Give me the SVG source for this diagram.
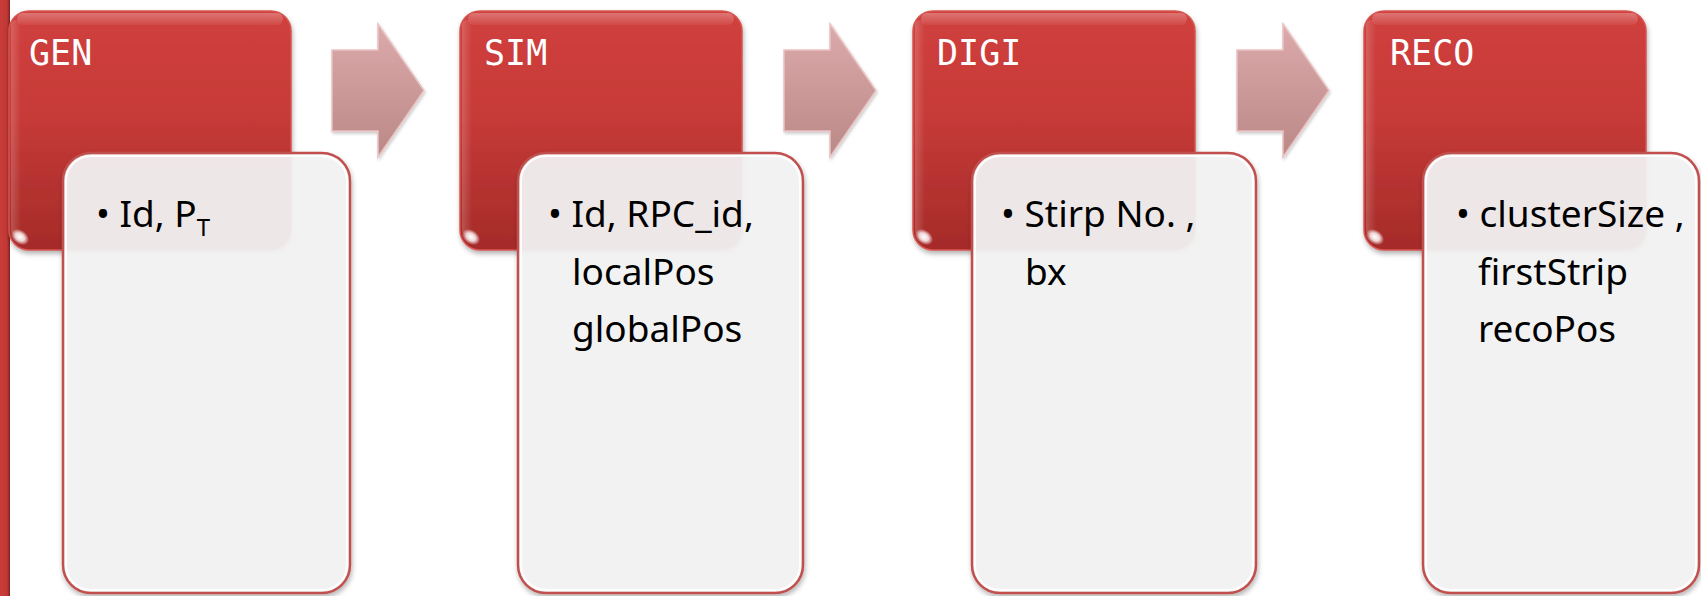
<svg xmlns="http://www.w3.org/2000/svg" width="1701" height="596" viewBox="0 0 1701 596">
  <defs>
    <linearGradient id="redG" x1="0" y1="0" x2="0" y2="1">
      <stop offset="0" stop-color="#d0403d"/>
      <stop offset="0.45" stop-color="#c63a37"/>
      <stop offset="1" stop-color="#a52b29"/>
    </linearGradient>
    <linearGradient id="glossG" x1="0" y1="0" x2="0" y2="1">
      <stop offset="0" stop-color="#ffffff" stop-opacity="0.28"/>
      <stop offset="1" stop-color="#ffffff" stop-opacity="0.05"/>
    </linearGradient>
    <linearGradient id="edgeG" x1="0" y1="0" x2="1" y2="0">
      <stop offset="0" stop-color="#ffffff" stop-opacity="0.18"/>
      <stop offset="1" stop-color="#ffffff" stop-opacity="0"/>
    </linearGradient>
    <linearGradient id="arrowG" x1="0" y1="0" x2="0" y2="1">
      <stop offset="0" stop-color="#dcaaaa"/>
      <stop offset="1" stop-color="#bb8888"/>
    </linearGradient>
    <linearGradient id="barG" x1="0" y1="0" x2="1" y2="0">
      <stop offset="0" stop-color="#c93c39"/>
      <stop offset="0.7" stop-color="#c23835"/>
      <stop offset="1" stop-color="#7d2220"/>
    </linearGradient>
    <radialGradient id="glint" cx="0.5" cy="0.5" r="0.5">
      <stop offset="0" stop-color="#ffffff" stop-opacity="1"/>
      <stop offset="0.5" stop-color="#ffffff" stop-opacity="0.8"/>
      <stop offset="1" stop-color="#ffffff" stop-opacity="0"/>
    </radialGradient>
    <filter id="shadow" x="-10%" y="-10%" width="120%" height="120%">
      <feDropShadow dx="1" dy="3" stdDeviation="2.5" flood-color="#000" flood-opacity="0.3"/>
    </filter>
    <filter id="ashadow" x="-10%" y="-10%" width="130%" height="130%">
      <feDropShadow dx="1" dy="2" stdDeviation="1.5" flood-color="#000" flood-opacity="0.2"/>
    </filter>
  </defs>
  <style>
    .red { fill: url(#redG); stroke: #d65450; stroke-width: 1.5; filter: url(#shadow); }
    .gloss { fill: url(#glossG); }
    .edge { fill: url(#edgeG); }
    .light { fill: #f4f4f4; fill-opacity: 0.92; stroke: #c0504d; stroke-width: 2.5; filter: url(#shadow); }
    .inner { fill: none; stroke: #ffffff; stroke-width: 2; stroke-opacity: 0.9; }
    .arrow { fill: url(#arrowG); stroke: #e9c2c2; stroke-width: 1.5; filter: url(#ashadow); }
    .title { font-family: "DejaVu Sans Mono", "Liberation Mono", monospace; font-size: 35px; fill: #ffffff; }
    .body { font-family: "Noto Sans", "Open Sans", sans-serif; font-size: 37px; fill: #000000; }
    .sub { font-size: 24px; }
  </style>

  <rect x="0" y="0" width="10" height="596" fill="url(#barG)"/>

  <g id="connectors">
    <polygon class="arrow" points="332,50 378,50 378,24 424,90.5 378,157 378,131 332,131"/>
    <polygon class="arrow" points="784,50 830,50 830,24 876,90.5 830,157 830,131 784,131"/>
    <polygon class="arrow" points="1237,50 1283,50 1283,24 1329,90.5 1283,157 1283,131 1237,131"/>
  </g>

  <g id="gen">
    <rect class="red" x="9" y="11" width="282" height="239" rx="20"/>
    <rect class="gloss" x="17" y="13" width="266" height="12" rx="6"/>
    <rect class="edge" x="11" y="20" width="10" height="215" rx="5"/>
    <ellipse cx="20" cy="237" rx="10" ry="7" transform="rotate(35 20 237)" fill="url(#glint)"/>
    <text class="title" x="29" y="65">GEN</text>
    <rect class="light" x="63" y="153" width="287" height="440" rx="28"/>
    <rect class="inner" x="66" y="156" width="281" height="434" rx="25"/>
    <text class="body" x="96" y="227">• Id, P<tspan class="sub" dy="9">T</tspan></text>
  </g>

  <g id="sim">
    <rect class="red" x="460" y="11" width="282" height="239" rx="20"/>
    <rect class="gloss" x="468" y="13" width="266" height="12" rx="6"/>
    <rect class="edge" x="462" y="20" width="10" height="215" rx="5"/>
    <ellipse cx="471" cy="237" rx="10" ry="7" transform="rotate(35 471 237)" fill="url(#glint)"/>
    <text class="title" x="484" y="65">SIM</text>
    <rect class="light" x="518" y="153" width="285" height="440" rx="28"/>
    <rect class="inner" x="521" y="156" width="279" height="434" rx="25"/>
    <text class="body" x="548" y="227">• Id, RPC_id,</text>
    <text class="body" x="572" y="285">localPos</text>
    <text class="body" x="572" y="342">globalPos</text>
  </g>

  <g id="digi">
    <rect class="red" x="913" y="11" width="282" height="239" rx="20"/>
    <rect class="gloss" x="921" y="13" width="266" height="12" rx="6"/>
    <rect class="edge" x="915" y="20" width="10" height="215" rx="5"/>
    <ellipse cx="924" cy="237" rx="10" ry="7" transform="rotate(35 924 237)" fill="url(#glint)"/>
    <text class="title" x="937" y="65">DIGI</text>
    <rect class="light" x="972" y="153" width="284" height="440" rx="28"/>
    <rect class="inner" x="975" y="156" width="278" height="434" rx="25"/>
    <text class="body" x="1001" y="227">• Stirp No. ,</text>
    <text class="body" x="1025" y="285">bx</text>
  </g>

  <g id="reco">
    <rect class="red" x="1364" y="11" width="282" height="239" rx="20"/>
    <rect class="gloss" x="1372" y="13" width="266" height="12" rx="6"/>
    <rect class="edge" x="1366" y="20" width="10" height="215" rx="5"/>
    <ellipse cx="1375" cy="237" rx="10" ry="7" transform="rotate(35 1375 237)" fill="url(#glint)"/>
    <text class="title" x="1390" y="65">RECO</text>
    <rect class="light" x="1423" y="153" width="276" height="440" rx="28"/>
    <rect class="inner" x="1426" y="156" width="270" height="434" rx="25"/>
    <text class="body" x="1456" y="227">• clusterSize ,</text>
    <text class="body" x="1478" y="285">firstStrip</text>
    <text class="body" x="1478" y="342">recoPos</text>
  </g>
</svg>
